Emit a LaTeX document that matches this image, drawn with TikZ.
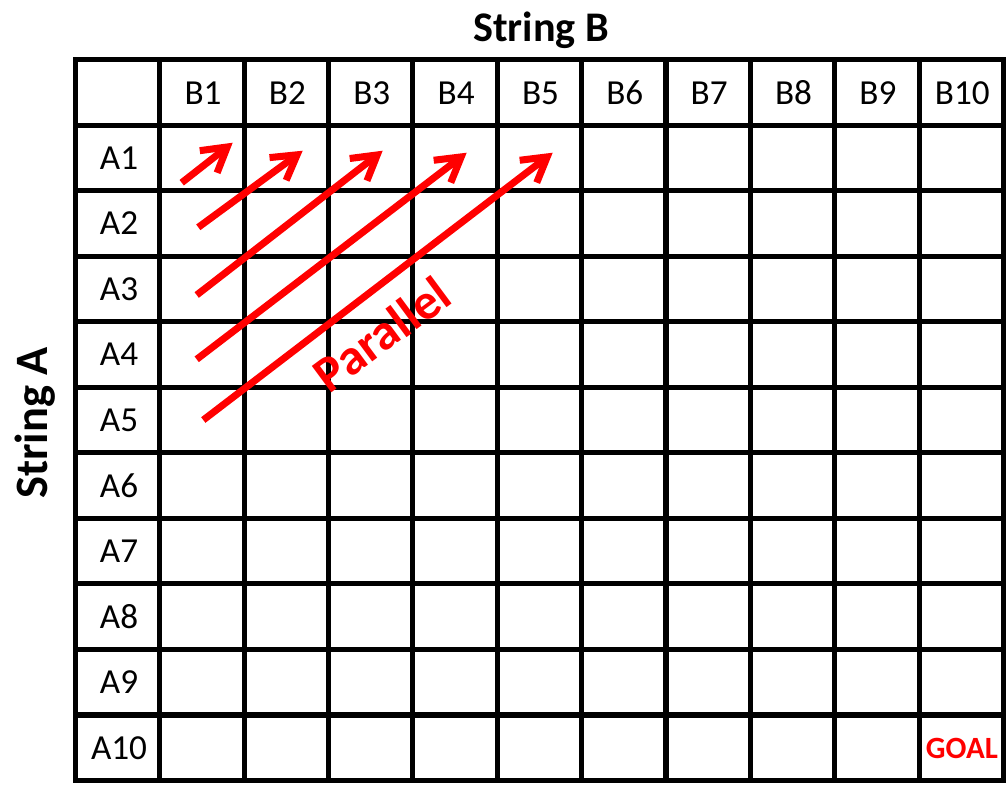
\documentclass[tikz,border=0pt]{standalone}
\usepackage{fontspec}
\setmainfont{Carlito}
\usetikzlibrary{arrows.meta}
\tikzset{every node/.style={align=center}, >={Straight Barb[length=17pt,width=20pt]}, font=\fontsize{25}{30}\selectfont}
\tikzset{gridline/.style={line width=3.6pt, line cap=rect},
         cell/.style={inner sep=0pt},
         title/.style={font=\fontsize{30}{36}\selectfont\bfseries, inner sep=0pt},
         diag/.style={color=red, line width=5pt},
         redtext/.style={text=red, inner sep=0pt}}

\begin{document}
\begin{tikzpicture}[x=0.025cm, y=-0.025cm]
    \useasboundingbox (0,0) rectangle (1008,785);
    % table
    \foreach \i in {0,...,11} {
        \draw [gridline] ({75.5+84.36*\i},59.5) -- ({75.5+84.36*\i},780.5);
        \draw [gridline] (75.5,{59.5+65.55*\i}) -- (1003.5,{59.5+65.55*\i});
    }
    \foreach \j in {1,...,10} {
        \node [cell] (b\j) at ({76.5+84.36*(\j+0.5)},93) {B\j};
        \node [cell] (a\j) at (119,{59.5+65.55*(\j+0.5)}) {A\j};
    }
    \node [title,anchor=base] (strb) at (541,41) {String B};
    \node [title,anchor=base,rotate=90,font=\fontsize{33}{38}\selectfont\bfseries] (stra) at (47.5,423) {String A};
    \node [redtext,font=\fontsize{22}{26}\selectfont\bfseries] (goal) at (962,748) {GOAL};

    % diagonals
    \coordinate (t1) at (181.7,182.7);  \coordinate (h1) at (232.7,142.7);
    \coordinate (t2) at (198.3,227.3);  \coordinate (h2) at (302.7,150.7);
    \coordinate (t3) at (196.7,295);    \coordinate (h3) at (382.7,150.7);
    \coordinate (t4) at (196.7,359.3);  \coordinate (h4) at (466.7,152.7);
    \coordinate (t5) at (203.3,420);    \coordinate (h5) at (552.7,152.7);
    \path[->,diag] (t1) edge (h1)
        (t2) edge (h2)
        (t3) edge (h3)
        (t4) edge (h4)
        (t5) edge (h5);
    \node [redtext,font=\fontsize{36}{42}\selectfont\bfseries,anchor=base,rotate=36.5] (par) at (392,348) {Parallel};
\end{tikzpicture}
\end{document}
